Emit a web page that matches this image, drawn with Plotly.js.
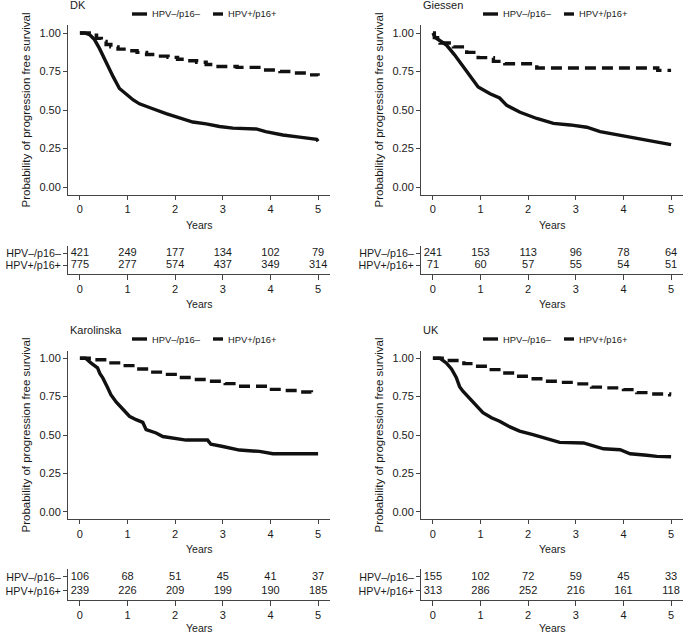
<!DOCTYPE html>
<html>
<head>
<meta charset="utf-8">
<script src="https://cdn.plot.ly/plotly-3.0.1.min.js"></script>
<style>html,body{margin:0;padding:0;background:#fff;}#chart{width:685px;height:633px;}</style>
</head>
<body>
<div id="chart"></div>
<script>
// ---------------- data ----------------
const years = [0, 1, 2, 3, 4, 5];
const groups = ["HPV–/p16–", "HPV+/p16+"];
const survTickVals = [0, 0.25, 0.5, 0.75, 1];
const survTickText = ["0.00", "0.25", "0.50", "0.75", "1.00"];
const panelTitles = ["DK", "Giessen", "Karolinska", "UK"];
const xTitle = "Years";
const yTitle = "Probability of progression free survival";

// DK
const dkNegT = [0, 0.1, 0.2, 0.3, 0.41, 0.5, 0.6, 0.7, 0.83, 1.0, 1.12, 1.25, 1.4, 1.53, 1.81, 2.09, 2.37, 2.65, 2.93, 3.21, 3.5, 3.7, 3.9, 4.1, 4.26, 4.61, 4.89, 4.97, 5.0];
const dkNegS = [1, 1, 0.99, 0.96, 0.9, 0.84, 0.77, 0.715, 0.64, 0.595, 0.565, 0.54, 0.52, 0.508, 0.476, 0.448, 0.422, 0.41, 0.393, 0.382, 0.38, 0.377, 0.36, 0.345, 0.338, 0.324, 0.316, 0.31, 0.297];
const dkPosT = [0, 0.25, 0.35, 0.45, 0.55, 0.65, 0.8, 1.0, 1.2, 1.4, 1.65, 1.85, 2.05, 2.25, 2.45, 2.65, 2.9, 3.3, 3.85, 4.2, 4.5, 4.8, 5.0];
const dkPosS = [1, 0.985, 0.965, 0.945, 0.925, 0.91, 0.895, 0.885, 0.874, 0.86, 0.85, 0.842, 0.83, 0.82, 0.81, 0.795, 0.782, 0.777, 0.76, 0.75, 0.74, 0.728, 0.723];
const dkRiskNeg = [421, 249, 177, 134, 102, 79];
const dkRiskPos = [775, 277, 574, 437, 349, 314];

// Giessen
const giNegT = [0, 0.05, 0.15, 0.29, 0.45, 0.64, 0.8, 0.95, 1.2, 1.4, 1.55, 1.83, 2.18, 2.53, 2.88, 3.23, 3.51, 3.93, 4.28, 4.63, 4.91, 5.0];
const giNegS = [1, 0.97, 0.95, 0.92, 0.86, 0.78, 0.71, 0.65, 0.605, 0.578, 0.53, 0.485, 0.445, 0.413, 0.403, 0.388, 0.36, 0.335, 0.315, 0.295, 0.275, 0.275];
const giPosT = [0, 0.03, 0.15, 0.43, 0.71, 0.95, 1.27, 1.51, 2.18, 4.72, 5.0];
const giPosS = [1, 0.97, 0.935, 0.91, 0.874, 0.84, 0.816, 0.8, 0.773, 0.757, 0.757];
const giRiskNeg = [241, 153, 113, 96, 78, 64];
const giRiskPos = [71, 60, 57, 55, 54, 51];

// Karolinska
const kaNegT = [0, 0.12, 0.23, 0.37, 0.42, 0.48, 0.58, 0.65, 0.76, 0.9, 1.04, 1.18, 1.32, 1.39, 1.6, 1.74, 2.02, 2.23, 2.68, 2.75, 3.0, 3.35, 3.77, 4.05, 5.0];
const kaNegS = [1, 1, 0.97, 0.937, 0.9, 0.872, 0.81, 0.763, 0.715, 0.665, 0.622, 0.6, 0.582, 0.535, 0.513, 0.49, 0.48, 0.467, 0.467, 0.44, 0.425, 0.402, 0.393, 0.378, 0.378];
const kaPosT = [0, 0.3, 0.6, 0.9, 1.15, 1.45, 1.75, 2.0, 2.4, 2.7, 3.05, 3.3, 3.95, 4.3, 4.6, 4.86];
const kaPosS = [1, 0.99, 0.97, 0.952, 0.93, 0.91, 0.895, 0.875, 0.862, 0.85, 0.835, 0.818, 0.797, 0.79, 0.78, 0.778];
const kaRiskNeg = [106, 68, 51, 45, 41, 37];
const kaRiskPos = [239, 226, 209, 199, 190, 185];

// UK
const ukNegT = [0, 0.15, 0.28, 0.39, 0.49, 0.56, 0.63, 0.77, 0.91, 1.05, 1.23, 1.4, 1.58, 1.82, 2.1, 2.38, 2.66, 3.16, 3.37, 3.58, 3.93, 4.14, 4.49, 4.7, 5.0];
const ukNegS = [1, 1, 0.97, 0.93, 0.875, 0.815, 0.785, 0.74, 0.69, 0.645, 0.612, 0.59, 0.558, 0.525, 0.503, 0.48, 0.452, 0.448, 0.43, 0.41, 0.404, 0.378, 0.368, 0.361, 0.358];
const ukPosT = [0, 0.25, 0.65, 0.88, 1.16, 1.44, 1.75, 2.03, 2.35, 2.7, 3.01, 3.33, 3.6, 4.0, 4.28, 4.56, 4.97, 5.0];
const ukPosS = [1, 0.985, 0.965, 0.948, 0.926, 0.904, 0.883, 0.867, 0.85, 0.843, 0.833, 0.812, 0.807, 0.796, 0.776, 0.767, 0.762, 0.762];
const ukRiskNeg = [155, 102, 72, 59, 45, 33];
const ukRiskPos = [313, 286, 252, 216, 161, 118];

// ---------------- layout geometry (px) ----------------
const W = 685, H = 633;
const fx = p => p / W;
const fy = p => 1 - p / H;
const FONT = "Liberation Sans, Arial, Helvetica, sans-serif";
const INK = "#1a1a1a";
const AXC = "#444444";

const colX = [[68, 330], [421, 683]];
const rowKM = [[25.3, 194.7], [350.6, 519.4]];
const rowTab = [[246, 274], [569, 600]];
const tabRange = [[-0.75, 1.62], [-0.66, 1.56]];
const titleY = [5, 330];
const legendY = [14, 339];
const kmYearsY = [225, 549];
const tabYearsY = [303.5, 628];

const panels = [
  {title: panelTitles[0], negT: dkNegT, negS: dkNegS, posT: dkPosT, posS: dkPosS, rNeg: dkRiskNeg, rPos: dkRiskPos, c: 0, r: 0},
  {title: panelTitles[1], negT: giNegT, negS: giNegS, posT: giPosT, posS: giPosS, rNeg: giRiskNeg, rPos: giRiskPos, c: 1, r: 0},
  {title: panelTitles[2], negT: kaNegT, negS: kaNegS, posT: kaPosT, posS: kaPosS, rNeg: kaRiskNeg, rPos: kaRiskPos, c: 0, r: 1},
  {title: panelTitles[3], negT: ukNegT, negS: ukNegS, posT: ukPosT, posS: ukPosS, rNeg: ukRiskNeg, rPos: ukRiskPos, c: 1, r: 1}
];

const traces = [];
const layout = {
  width: W, height: H,
  margin: {l: 0, r: 0, t: 0, b: 0},
  showlegend: false,
  paper_bgcolor: "#ffffff",
  plot_bgcolor: "#ffffff",
  font: {family: FONT, color: INK, size: 11},
  shapes: [],
  annotations: []
};

function axName(i) { return i === 1 ? "" : String(i); }

const baseX = {
  range: [-0.25, 5.25], tickmode: "array", tickvals: years, ticktext: years.map(String),
  ticks: "outside", ticklen: 4, tickwidth: 1, tickcolor: AXC,
  showline: true, linecolor: AXC, linewidth: 1,
  showgrid: false, zeroline: false, automargin: false,
  tickfont: {size: 11, color: INK, family: FONT},
  fixedrange: true
};

panels.forEach((p, i) => {
  const kmI = 2 * i + 1, tbI = 2 * i + 2;
  const kmX = "x" + axName(kmI), kmY = "y" + axName(kmI);
  const tbX = "x" + axName(tbI), tbY = "y" + axName(tbI);
  const cx = colX[p.c];
  const xMid = fx(80 + (p.c === 0 ? 0 : 353) + 119);

  // KM curves
  traces.push({type: "scatter", mode: "lines", x: p.negT, y: p.negS, xaxis: kmX, yaxis: kmY,
    name: groups[0], line: {color: "#111", width: 3.4, shape: "linear"}, hoverinfo: "skip"});
  traces.push({type: "scatter", mode: "lines", x: p.posT, y: p.posS, xaxis: kmX, yaxis: kmY,
    name: groups[1], line: {color: "#111", width: 3.4, shape: "hv", dash: "11px,6px"}, hoverinfo: "skip"});

  // risk table text
  traces.push({type: "scatter", mode: "text", x: years, y: years.map(() => groups[0]), text: p.rNeg.map(String),
    xaxis: tbX, yaxis: tbY, textposition: "middle center", textfont: {size: 11, color: INK, family: FONT}, hoverinfo: "skip"});
  traces.push({type: "scatter", mode: "text", x: years, y: years.map(() => groups[1]), text: p.rPos.map(String),
    xaxis: tbX, yaxis: tbY, textposition: "middle center", textfont: {size: 11, color: INK, family: FONT}, hoverinfo: "skip"});

  // KM axes
  layout["xaxis" + axName(kmI)] = Object.assign({}, baseX, {
    domain: [fx(cx[0]), fx(cx[1])], anchor: kmY
  });
  layout["yaxis" + axName(kmI)] = {
    domain: [fy(rowKM[p.r][1]), fy(rowKM[p.r][0])], anchor: kmX,
    range: [-0.05, 1.05], tickmode: "array", tickvals: survTickVals, ticktext: survTickText,
    ticks: "outside", ticklen: 4, tickwidth: 1, tickcolor: AXC,
    showline: true, linecolor: AXC, linewidth: 1,
    showgrid: false, zeroline: false, automargin: false,
    tickfont: {size: 11, color: INK, family: FONT},
    title: {text: yTitle, font: {size: 11.5, color: INK, family: FONT}, standoff: 6},
    fixedrange: true
  };

  // table axes
  layout["xaxis" + axName(tbI)] = Object.assign({}, baseX, {
    domain: [fx(cx[0]), fx(cx[1])], anchor: tbY, ticklen: 5
  });
  layout["yaxis" + axName(tbI)] = {
    domain: [fy(rowTab[p.r][1]), fy(rowTab[p.r][0])], anchor: tbX,
    type: "category", categoryorder: "array", categoryarray: [groups[1], groups[0]],
    tickmode: "array", tickvals: groups, ticktext: groups,
    range: tabRange[p.r],
    ticks: "outside", ticklen: 4, tickwidth: 1, tickcolor: AXC,
    showline: true, linecolor: AXC, linewidth: 1,
    showgrid: false, zeroline: false, automargin: false,
    tickfont: {size: 10.7, color: INK, family: FONT},
    fixedrange: true
  };

  // x-axis titles ("Years")
  layout.annotations.push({xref: "paper", yref: "paper", x: xMid, y: fy(kmYearsY[p.r]),
    xanchor: "center", yanchor: "middle", showarrow: false, text: xTitle,
    font: {size: 10.5, color: INK, family: FONT}});
  layout.annotations.push({xref: "paper", yref: "paper", x: xMid, y: fy(tabYearsY[p.r]),
    xanchor: "center", yanchor: "middle", showarrow: false, text: xTitle,
    font: {size: 10.5, color: INK, family: FONT}});

  // panel title
  layout.annotations.push({xref: "paper", yref: "paper", x: fx(cx[0]), y: fy(titleY[p.r]),
    xanchor: "left", yanchor: "middle", showarrow: false, text: p.title,
    font: {size: 11, color: INK, family: FONT}});

  // legend (manual keys)
  const off = p.c === 0 ? 0 : 351;
  const ly = fy(legendY[p.r]);
  layout.shapes.push({type: "line", xref: "paper", yref: "paper", x0: fx(132 + off), x1: fx(147 + off), y0: ly, y1: ly,
    line: {color: "#111", width: 3.4}});
  layout.shapes.push({type: "line", xref: "paper", yref: "paper", x0: fx(213 + off), x1: fx(223 + off), y0: ly, y1: ly,
    line: {color: "#111", width: 3.4}});
  layout.annotations.push({xref: "paper", yref: "paper", x: fx(150 + off), y: ly, xanchor: "left", yanchor: "middle",
    showarrow: false, text: groups[0], font: {size: 9.4, color: INK, family: FONT}});
  layout.annotations.push({xref: "paper", yref: "paper", x: fx(226 + off), y: ly, xanchor: "left", yanchor: "middle",
    showarrow: false, text: groups[1], font: {size: 9.4, color: INK, family: FONT}});
});

Plotly.newPlot("chart", traces, layout, {displayModeBar: false, staticPlot: true});
</script>
</body>
</html>
